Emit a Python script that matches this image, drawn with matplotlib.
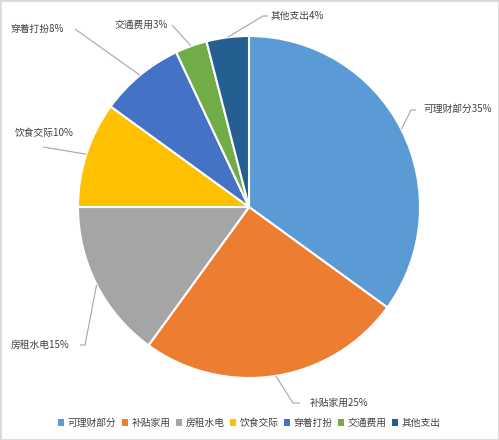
import matplotlib.pyplot as plt
import numpy as np

plt.rcParams['font.family'] = ['Noto Sans CJK SC', 'DejaVu Sans']

categories = ['可理财部分', '补贴家用', '房租水电', '饮食交际', '穿着打扮', '交通费用', '其他支出']
shares = [35, 25, 15, 10, 8, 3, 4]
colors = ['#5B9BD5', '#ED7D31', '#A5A5A5', '#FFC000', '#4472C4', '#70AD47', '#255E91']

# leader end (x, y), tick length, text (x, y), alignment -- pixel units, y from top
label_pos = [
    ((411, 110), 5, (423, 109), 'left'),
    ((293, 403), 7, (310, 403), 'left'),
    ((85, 345), -5, (69, 345), 'right'),
    ((43, 147), 0, (15, 133), 'left'),
    ((75, 29), 0, (64, 29), 'right'),
    ((172, 25), 0, (168, 25), 'right'),
    ((263, 16), 5, (271, 16), 'left'),
]

W, H = 499, 440
fig = plt.figure(figsize=(W / 100, H / 100), dpi=100)
ax = fig.add_axes([0, 0, 1, 1])

cx, cy, r = 249, H - 207, 171
wedges, _ = ax.pie(shares, colors=colors, startangle=90, counterclock=False,
                   center=(cx, cy), radius=r, frame=True,
                   wedgeprops=dict(edgecolor='white', linewidth=1.5))
ax.set_xlim(0, W)
ax.set_ylim(0, H)
ax.set_aspect('equal')
ax.axis('off')

for w, name, val, ((lx, ly), tick, (tx, ty), ha) in zip(wedges, categories, shares, label_pos):
    mid = np.deg2rad((w.theta1 + w.theta2) / 2)
    ex, ey = cx + r * np.cos(mid), cy + r * np.sin(mid)
    ly = H - ly
    ax.plot([ex, lx, lx + tick], [ey, ly, ly], color='#A6A6A6', lw=0.8,
            solid_capstyle='butt')
    ax.text(tx, H - ty, f'{name}{val}%', ha=ha, va='center',
            fontsize=7, color='#404040')

handles = [plt.Rectangle((0, 0), 1, 1, facecolor=c, edgecolor='none') for c in colors]
fig.legend(handles, categories, loc='center', bbox_to_anchor=(0.5, 1 - 423 / H),
           ncol=7, frameon=False, fontsize=7, handlelength=0.6,
           handleheight=0.6, handletextpad=0.35, columnspacing=0.6,
           labelcolor='#404040')

fig.patches.append(plt.Rectangle((0, 0), 1, 1, transform=fig.transFigure,
                                 fill=False, edgecolor='#D9D9D9', lw=2))
fig.savefig('out.png', dpi=100)
